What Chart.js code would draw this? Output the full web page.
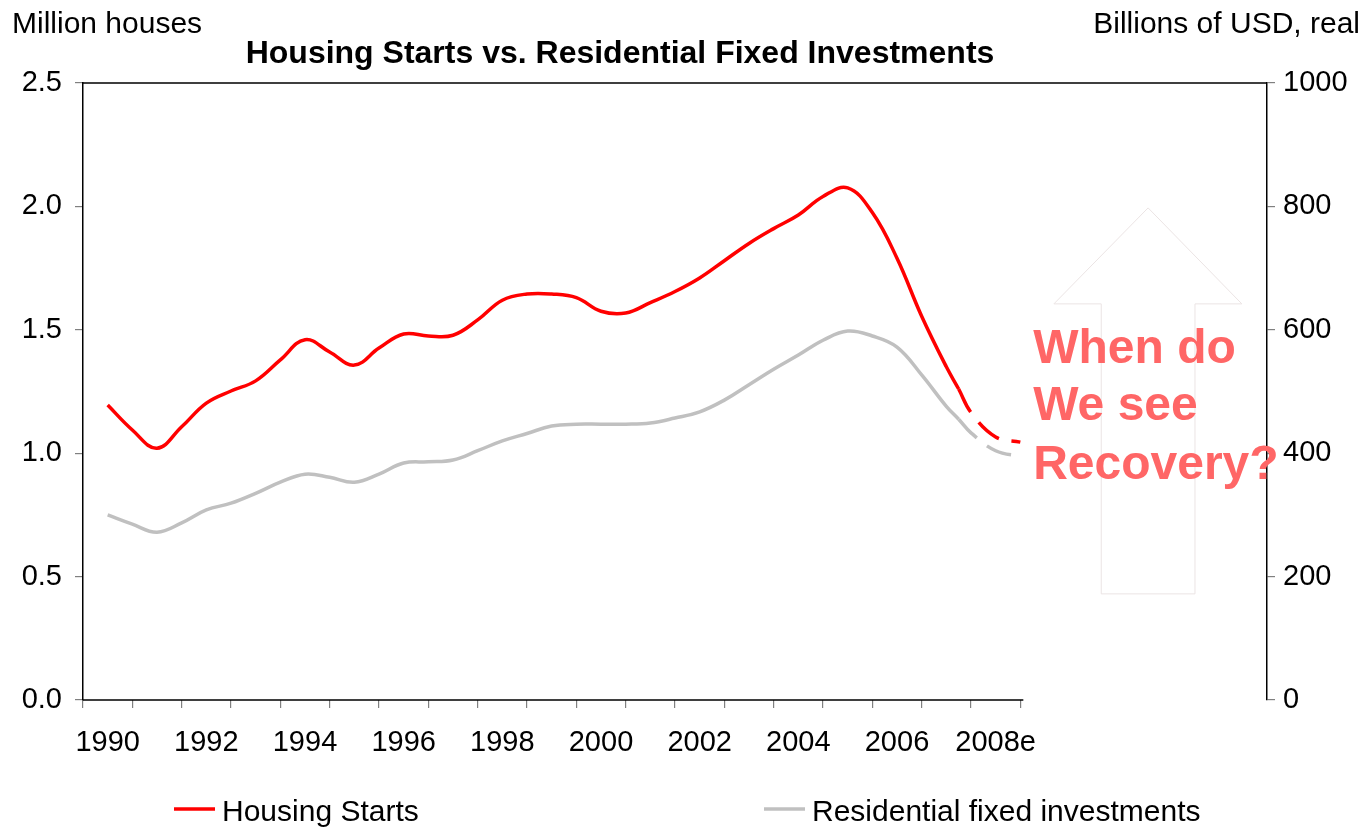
<!DOCTYPE html>
<html><head><meta charset="utf-8">
<script src="https://cdn.jsdelivr.net/npm/chart.js@4.4.0/dist/chart.umd.min.js"></script>
<style>html,body{margin:0;padding:0;background:#fff;}</style>
</head><body>
<canvas id="c" width="1365" height="828"></canvas>
<script>
// ---- data ----
const years = [1990,1990.5,1991,1991.5,1992,1992.5,1993,1993.5,1994,1994.5,1995,1995.5,1996,1996.5,1997,1997.5,1998,1998.5,1999,1999.5,2000,2000.5,2001,2001.5,2002,2002.5,2003,2003.5,2004,2004.5,2005,2005.5,2006,2006.5,2007,2007.25,2007.5,2008,2008.5];
const housingStarts = [1.195,1.094,1.02,1.107,1.203,1.252,1.293,1.378,1.46,1.41,1.357,1.426,1.483,1.475,1.478,1.54,1.62,1.645,1.645,1.63,1.575,1.568,1.61,1.655,1.71,1.78,1.85,1.91,1.965,2.04,2.075,1.975,1.79,1.555,1.35,1.26,1.165,1.066,1.045];
const residentialInvest = [300,285,272,287,308,319,335,353,366,361,353,366,384,386,389,404,420,432,444,447,447,447,449,457,467,486,511,536,559,583,598,590,572,527,476,455,433,404,395];
const forecastFrom = 2007.25;
const tickYears = [1990,1991,1992,1993,1994,1995,1996,1997,1998,1999,2000,2001,2002,2003,2004,2005,2006,2007,2008];
const tickLabels = ['1990','','1992','','1994','','1996','','1998','','2000','','2002','','2004','','2006','','2008e'];
const leftTicks = [0,0.5,1,1.5,2,2.5];
const rightTicks = [0,200,400,600,800,1000];
const seriesNames = ['Housing Starts','Residential fixed investments'];
const titleText = 'Housing Starts vs. Residential Fixed Investments';
const leftAxisTitle = 'Million houses';
const rightAxisTitle = 'Billions of USD, real';
const noteLines = ['When do','We see','Recovery?'];

// ---- styles ----
const FONT = '"Liberation Sans", Arial, Helvetica, sans-serif';
const RED = '#ff0000', GRAY = '#c0c0c0', NOTE = '#ff6666';
const xMin = 1989.5, xMax = 2013.5, xAxisEnd = 2008.5;

const pts = (vals) => years.map((y, i) => ({x: y, y: vals[i]}));
const dashSeg = {borderDash: ctx => ctx.p0.parsed.x >= forecastFrom ? [26, 13] : undefined};

const decor = {
  id: 'decor',
  beforeDatasetsDraw(chart) {
    const {ctx} = chart, xs = chart.scales.x, ys = chart.scales.y;
    const A = {tip:[2011.09,1.994], hl:2009.18, hr:2012.99, hy:1.605, sl:2010.14, sr:2012.04, by:0.43};
    const X = v => xs.getPixelForValue(v), Y = v => ys.getPixelForValue(v);
    ctx.save();
    ctx.strokeStyle = '#ebe4e4';
    ctx.lineWidth = 1;
    ctx.beginPath();
    ctx.moveTo(X(A.tip[0]), Y(A.tip[1]));
    ctx.lineTo(X(A.hr), Y(A.hy));
    ctx.lineTo(X(A.sr), Y(A.hy));
    ctx.lineTo(X(A.sr), Y(A.by));
    ctx.lineTo(X(A.sl), Y(A.by));
    ctx.lineTo(X(A.sl), Y(A.hy));
    ctx.lineTo(X(A.hl), Y(A.hy));
    ctx.closePath();
    ctx.stroke();
    ctx.restore();
  },
  afterDraw(chart) {
    const {ctx, chartArea: ca} = chart, xs = chart.scales.x, ys = chart.scales.y;
    ctx.save();
    ctx.strokeStyle = '#000'; ctx.lineWidth = 1.5;
    ctx.beginPath();
    ctx.moveTo(ca.left, ca.top); ctx.lineTo(ca.right, ca.top);
    ctx.moveTo(ca.left, ca.bottom); ctx.lineTo(xs.getPixelForValue(xAxisEnd) + 3, ca.bottom);
    ctx.stroke();
    ctx.fillStyle = '#000';
    ctx.textBaseline = 'alphabetic';
    ctx.font = '30px ' + FONT;
    ctx.textAlign = 'left';
    ctx.fillText(leftAxisTitle, 12, 33);
    ctx.textAlign = 'right';
    ctx.fillText(rightAxisTitle, 1360, 33);
    ctx.font = 'bold 32px ' + FONT;
    ctx.textAlign = 'center';
    ctx.fillText(titleText, 620, 63);
    ctx.fillStyle = NOTE;
    ctx.font = 'bold 48px ' + FONT;
    ctx.textAlign = 'left';
    const nx = xs.getPixelForValue(2008.76);
    [1.365, 1.135, 0.896].forEach((v, i) => ctx.fillText(noteLines[i], nx, ys.getPixelForValue(v)));
    const lx = [174, 764];
    chart.data.datasets.forEach((ds, i) => {
      ctx.strokeStyle = ds.borderColor; ctx.lineWidth = 3.5;
      ctx.beginPath(); ctx.moveTo(lx[i], 809); ctx.lineTo(lx[i] + 41, 809); ctx.stroke();
      ctx.fillStyle = '#000'; ctx.font = '30px ' + FONT; ctx.textAlign = 'left';
      ctx.fillText(ds.label, lx[i] + 48, 821);
    });
    ctx.restore();
  }
};

new Chart(document.getElementById('c'), {
  type: 'line',
  data: {
    datasets: [
      {label: seriesNames[0], data: pts(housingStarts), yAxisID: 'y', borderColor: RED, borderWidth: 3.5,
       pointRadius: 0, tension: 0.4, segment: dashSeg},
      {label: seriesNames[1], data: pts(residentialInvest), yAxisID: 'y2', borderColor: GRAY, borderWidth: 3.5,
       pointRadius: 0, tension: 0.4, segment: dashSeg}
    ]
  },
  options: {
    responsive: false, animation: false, devicePixelRatio: 1,
    layout: {padding: {top: 83, left: 0, right: 0, bottom: 0}},
    plugins: {legend: {display: false}, tooltip: {enabled: false}, title: {display: false}},
    scales: {
      x: {
        type: 'linear', min: xMin, max: xMax,
        afterBuildTicks: s => { s.ticks = tickYears.map(v => ({value: v})); },
        afterFit: s => { s.height = 128; },
        grid: {offset: true, drawOnChartArea: false, drawTicks: true, tickLength: 8, color: '#808080', lineWidth: 1.2},
        border: {display: false},
        ticks: {autoSkip: false, maxRotation: 0, padding: 18, color: '#000', font: {family: FONT, size: 29},
                callback: (v) => { const i = tickYears.indexOf(v); return i >= 0 ? tickLabels[i] : ''; }}
      },
      y: {
        position: 'left', min: 0, max: 2.5,
        afterBuildTicks: s => { s.ticks = leftTicks.map(v => ({value: v})); },
        afterFit: s => { s.width = 83; },
        grid: {drawOnChartArea: false, tickLength: 8, color: '#808080', lineWidth: 1.2},
        border: {display: true, color: '#000', width: 1.5},
        ticks: {padding: 13, color: '#000', font: {family: FONT, size: 29}, callback: v => v.toFixed(1)}
      },
      y2: {
        position: 'right', min: 0, max: 1000,
        afterBuildTicks: s => { s.ticks = rightTicks.map(v => ({value: v})); },
        afterFit: s => { s.width = 98; },
        grid: {drawOnChartArea: false, tickLength: 8, color: '#808080', lineWidth: 1.2},
        border: {display: true, color: '#000', width: 1.5},
        ticks: {padding: 8, color: '#000', font: {family: FONT, size: 29}, callback: v => String(v)}
      }
    }
  },
  plugins: [decor]
});
</script>
</body></html>
